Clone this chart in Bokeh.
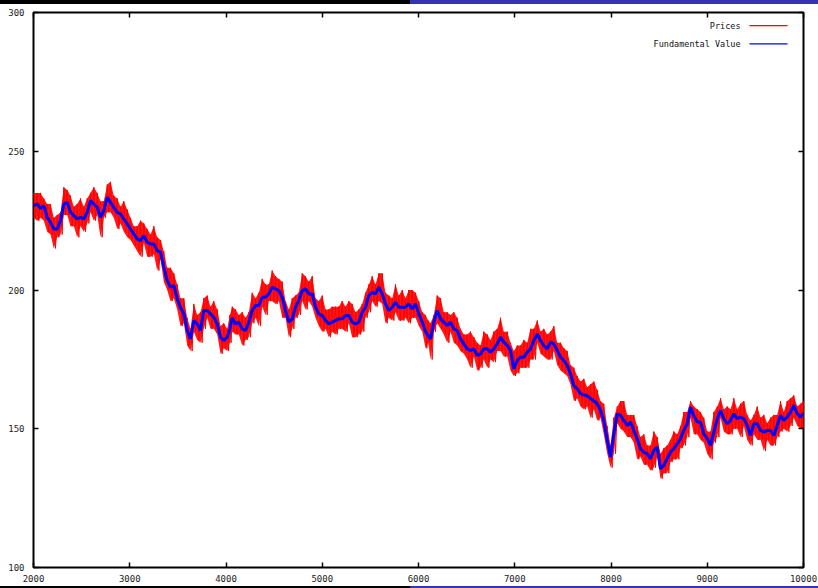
from bokeh.plotting import figure
from bokeh.models import Range1d, LinearAxis, FixedTicker, Label, Div
from bokeh.layouts import column
from bokeh.embed import file_html
from bokeh.resources import INLINE

# ---------------- data ----------------
time = [
    2000, 2038, 2073, 2107, 2142, 2177, 2211, 2246, 2281, 2315,
    2350, 2384, 2419, 2454, 2488, 2523, 2558, 2592, 2627, 2662,
    2696, 2730, 2766, 2800, 2834, 2870, 2904, 2938, 2974, 3008,
    3042, 3077, 3112, 3146, 3181, 3216, 3250, 3285, 3320, 3354,
    3389, 3423, 3458, 3493, 3527, 3562, 3597, 3631, 3666, 3701,
    3735, 3769, 3805, 3839, 3873, 3909, 3943, 3977, 4013, 4040,
    4065, 4099, 4133, 4168, 4203, 4237, 4272, 4307, 4341, 4376,
    4411, 4445, 4480, 4514, 4549, 4584, 4618, 4653, 4688, 4722,
    4756, 4792, 4826, 4860, 4896, 4930, 4964, 5000, 5034, 5068,
    5103, 5138, 5172, 5207, 5242, 5276, 5311, 5346, 5380, 5415,
    5449, 5484, 5519, 5553, 5588, 5623, 5657, 5692, 5727, 5761,
    5795, 5831, 5865, 5899, 5935, 5969, 6003, 6039, 6073, 6100,
    6125, 6159, 6194, 6229, 6263, 6298, 6333, 6367, 6402, 6436,
    6471, 6506, 6540, 6575, 6610, 6644, 6678, 6714, 6748, 6782,
    6818, 6852, 6886, 6922, 6956, 6990, 7026, 7060, 7094, 7130,
    7164, 7198, 7234, 7268, 7302, 7337, 7372, 7406, 7441, 7476,
    7510, 7545, 7579, 7614, 7649, 7683, 7718, 7753, 7787, 7822,
    7857, 7891, 7925, 7961, 7995, 8029, 8065, 8099, 8133, 8168,
    8203, 8237, 8272, 8306, 8341, 8376, 8410, 8445, 8480, 8514,
    8549, 8584, 8618, 8652, 8688, 8722, 8756, 8792, 8826, 8860,
    8896, 8930, 8964, 9000, 9034, 9068, 9104, 9138, 9172, 9207,
    9242, 9276, 9311, 9346, 9380, 9415, 9450, 9484, 9519, 9554,
    9588, 9623, 9657, 9692, 9727, 9761, 9795, 9831, 9865, 9899,
    9935, 9969, 10000,
]

fundamental = [
    230.4, 231.0, 229.4, 230.4, 226.2, 224.4, 222.0, 222.0, 225.0, 231.0,
    231.6, 228.0, 226.8, 225.6, 226.2, 225.6, 228.0, 232.2, 231.0, 229.8,
    226.2, 228.6, 233.4, 231.6, 229.8, 228.0, 227.4, 225.6, 223.8, 222.0,
    220.2, 218.4, 217.8, 219.6, 217.2, 216.6, 216.6, 214.2, 213.6, 208.2,
    203.4, 201.0, 201.6, 196.8, 193.8, 191.4, 185.4, 182.4, 189.0, 187.8,
    185.4, 192.6, 192.6, 191.4, 190.2, 187.8, 183.0, 181.8, 183.0, 186.0,
    190.0, 187.8, 188.4, 186.0, 185.4, 188.4, 192.6, 194.4, 194.4, 197.4,
    197.4, 198.6, 201.0, 200.4, 199.8, 197.4, 192.6, 188.4, 189.6, 193.8,
    196.2, 199.8, 200.4, 198.6, 198.6, 193.8, 191.4, 190.8, 189.0, 187.8,
    188.4, 189.0, 189.6, 189.6, 190.8, 190.8, 188.4, 187.8, 188.4, 192.0,
    193.8, 198.0, 199.2, 198.6, 201.0, 198.6, 195.0, 192.6, 193.8, 195.6,
    193.8, 193.8, 193.8, 195.0, 193.2, 195.0, 191.4, 188.5, 185.0, 183.5,
    182.4, 188.4, 192.6, 189.6, 188.4, 187.2, 188.4, 186.0, 185.4, 182.4,
    180.6, 178.8, 178.2, 178.8, 176.4, 177.0, 178.8, 178.8, 177.6, 178.8,
    180.6, 183.0, 181.2, 180.0, 178.2, 171.6, 174.6, 175.8, 175.8, 177.6,
    178.8, 181.8, 184.2, 181.8, 180.0, 178.8, 181.2, 180.6, 178.2, 175.8,
    174.6, 172.8, 169.8, 165.6, 164.4, 162.6, 162.2, 161.8, 161.0, 160.0,
    159.0, 156.6, 153.0, 145.8, 139.8, 148.2, 155.4, 154.8, 153.0, 151.2,
    152.4, 149.4, 146.4, 142.8, 141.6, 141.0, 139.2, 142.2, 143.4, 135.6,
    136.8, 139.2, 141.6, 142.8, 144.6, 146.4, 149.4, 151.8, 157.8, 154.8,
    152.4, 152.4, 148.2, 146.4, 144.0, 148.8, 153.6, 156.6, 153.6, 151.8,
    153.0, 155.4, 153.6, 154.2, 153.6, 151.2, 147.6, 151.8, 151.8, 149.4,
    148.8, 149.4, 149.4, 147.6, 151.2, 154.8, 153.0, 154.2, 156.0, 158.4,
    155.4, 154.2, 155.6,
]

price_high = [
    235, 235, 235, 233, 231, 231, 226, 227, 228, 237,
    236, 234, 230, 231, 233, 230, 233, 235, 237, 235,
    232, 232, 238, 239, 234, 233, 230, 232, 229, 226,
    223, 223, 225, 224, 222, 220, 223, 219, 218, 214,
    208, 208, 206, 202, 197, 197, 190, 186, 195, 191,
    192, 197, 198, 194, 196, 193, 187, 188, 186, 191,
    194, 193, 191, 192, 190, 192, 199, 197, 199, 204,
    202, 202, 207, 205, 204, 203, 196, 193, 197, 198,
    199, 206, 205, 203, 205, 197, 196, 198, 193, 193,
    194, 194, 194, 196, 194, 196, 195, 192, 193, 195,
    199, 202, 205, 202, 206, 206, 199, 198, 197, 202,
    198, 200, 197, 200, 200, 199, 196, 192, 191, 189,
    188, 191, 198, 197, 192, 192, 191, 192, 190, 186,
    184, 184, 185, 183, 181, 180, 185, 184, 182, 185,
    186, 190, 185, 185, 181, 178, 180, 180, 182, 181,
    186, 186, 189, 185, 186, 184, 185, 187, 181, 181,
    179, 178, 173, 172, 169, 167, 168, 165, 166, 167,
    164, 160, 159, 151, 144, 154, 158, 160, 160, 155,
    155, 155, 151, 147, 148, 144, 144, 149, 147, 141,
    143, 144, 146, 149, 148, 151, 156, 156, 160, 158,
    157, 156, 154, 149, 149, 156, 158, 161, 157, 158,
    157, 161, 157, 159, 160, 155, 153, 155, 158, 154,
    155, 152, 154, 155, 155, 160, 156, 160, 161, 162,
    158, 159, 160,
]

price_low = [
    226, 225, 226, 225, 221, 220, 215, 219, 220, 227,
    227, 223, 223, 219, 223, 221, 224, 228, 225, 227,
    219, 226, 228, 228, 226, 222, 224, 221, 219, 218,
    216, 214, 212, 217, 212, 212, 213, 207, 211, 203,
    200, 196, 197, 193, 187, 188, 180, 178, 185, 182,
    181, 186, 190, 186, 186, 184, 177, 179, 178, 181,
    185, 184, 184, 180, 182, 183, 188, 190, 187, 194,
    191, 196, 196, 195, 196, 190, 190, 183, 186, 190,
    191, 196, 193, 196, 194, 190, 187, 185, 186, 183,
    185, 184, 186, 186, 185, 188, 183, 183, 184, 185,
    190, 192, 196, 194, 196, 195, 188, 190, 189, 192,
    189, 189, 190, 188, 190, 190, 187, 185, 179, 181,
    175, 185, 188, 186, 184, 181, 185, 181, 180, 178,
    177, 175, 172, 176, 171, 172, 175, 172, 175, 174,
    178, 178, 176, 176, 171, 169, 170, 172, 172, 172,
    175, 175, 181, 177, 176, 175, 175, 178, 173, 171,
    170, 169, 166, 160, 161, 158, 157, 158, 154, 157,
    153, 154, 148, 141, 136, 141, 152, 150, 149, 147,
    147, 145, 139, 140, 137, 137, 135, 136, 140, 132,
    134, 134, 138, 139, 139, 143, 144, 147, 154, 148,
    148, 146, 145, 141, 139, 145, 147, 154, 149, 148,
    148, 150, 150, 147, 151, 146, 144, 148, 146, 146,
    142, 146, 144, 144, 147, 149, 150, 149, 151, 154,
    151, 150, 150,
]

x_ticks = [2000, 3000, 4000, 5000, 6000, 7000, 8000, 9000, 10000]
y_ticks = [100, 150, 200, 250, 300]
series_names = ["Prices", "Fundamental Value"]
series_colors = ["#ff0000", "#0000ff"]

n = len(time)
assert len(fundamental) == n and len(price_high) == n and len(price_low) == n, (
    len(time), len(fundamental), len(price_high), len(price_low))

# the price path swings between its high and low readings within each step
price_x, price_y = [], []
for i in range(n):
    nxt = time[i + 1] if i + 1 < n else time[i]
    price_x += [time[i], (time[i] + nxt) / 2]
    price_y += [price_high[i], price_low[i]]

# ---------------- figure ----------------
FONT = "DejaVu Sans Mono"

p = figure(width=818, height=582, output_backend="svg", toolbar_location=None,
           x_range=Range1d(2000, 10000), y_range=Range1d(100, 300),
           min_border_left=33, min_border_right=15,
           min_border_top=8, min_border_bottom=19)
p.grid.visible = False
p.background_fill_color = "white"
p.border_fill_color = "white"
p.outline_line_color = "black"
p.outline_line_width = 2

# price band (dense noisy price path) + the path itself
p.varea(x=time, y1=price_low, y2=price_high, fill_color=series_colors[0], fill_alpha=0.9)
p.line(price_x, price_y, color=series_colors[0], line_width=1)
p.line(time, fundamental, color=series_colors[1], line_width=3)

def style_axis(ax, ticks, show_labels):
    ax.ticker = FixedTicker(ticks=ticks)
    ax.axis_line_color = None
    ax.major_tick_in = 5
    ax.major_tick_out = 0
    ax.major_tick_line_color = "black"
    ax.major_tick_line_width = 1.5
    ax.minor_tick_line_color = None
    if show_labels:
        ax.major_label_text_font = FONT
        ax.major_label_text_font_size = "9px"
        ax.major_label_text_color = "#222222"
    else:
        ax.major_label_text_font_size = "0px"
        ax.major_label_text_color = None
        ax.major_label_standoff = 0

style_axis(p.xaxis[0], x_ticks, True)
p.xaxis[0].major_label_standoff = 7
style_axis(p.yaxis[0], y_ticks, True)
p.yaxis[0].major_label_standoff = 9

top_axis = LinearAxis()
style_axis(top_axis, x_ticks, False)
p.add_layout(top_axis, "above")
right_axis = LinearAxis()
style_axis(right_axis, y_ticks, False)
p.add_layout(right_axis, "right")

# gnuplot-style key: label on the left, line sample on the right
key_y = [295.3, 288.7]
key_x = [9439, 9834]
for name, col, ky in zip(series_names, series_colors, key_y):
    p.line(x=key_x, y=[ky, ky], line_color=col, line_width=1.2)
    p.add_layout(Label(x=9346, y=ky, text=name, text_align="right",
                       text_baseline="middle", text_font=FONT,
                       text_font_size="8.5px", text_color="#111111"))

bar_style = {"background": "linear-gradient(to right, #000000 0px, #000000 410px, #3333b3 410px, #3333b3 818px)"}
top_bar = Div(text="", width=818, height=4, margin=0, styles=bar_style)
bottom_bar = Div(text="", width=818, height=2, margin=0, styles=bar_style)

layout = column(top_bar, p, bottom_bar, spacing=0, margin=0)

open("out.html", "w").write(file_html(layout, INLINE))
